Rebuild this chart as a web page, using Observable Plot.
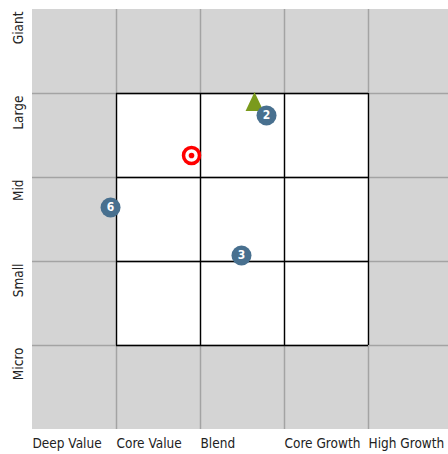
<!DOCTYPE html>
<html>
<head>
<meta charset="utf-8">
<script src="https://cdn.jsdelivr.net/npm/d3@7"></script>
<script src="https://cdn.jsdelivr.net/npm/@observablehq/plot@0.6"></script>
<style>
  html, body { margin: 0; padding: 0; background: #fff; }
  svg { font-family: "Liberation Sans Narrow", "DejaVu Sans Condensed", Roboto, sans-serif; }
</style>
</head>
<body>
<div id="chart"></div>
<script>
// Style axis (columns, left edge of each) and size axis (rows, top edge of each)
const styleLabels = ["Deep Value", "Core Value", "Blend", "Core Growth", "High Growth"];
const sizeLabels = ["Micro", "Small", "Mid", "Large", "Giant"];

// Holdings (numbered circles): style score, size score
const holdingX = [2.786, 0.929, 2.488];
const holdingY = [3.738, 2.643, 2.071];
const holdingN = ["2", "6", "3"];

// Fund centroid (target) and benchmark (triangle)
const fundX = [1.893];
const fundY = [3.262];
const benchX = [2.643];
const benchY = [3.905];

const holdings = holdingX.map((x, i) => ({x, y: holdingY[i], n: holdingN[i]}));
const fund = fundX.map((x, i) => ({x, y: fundY[i]}));
const bench = benchX.map((x, i) => ({x, y: benchY[i]}));
const cols = styleLabels.map((label, i) => ({label, x: i}));
const rows = sizeLabels.map((label, i) => ({label, y: i + 1}));
const inner = [1, 2, 3, 4];

// isosceles triangle symbol (apex up), half-height = r
const triangleUp = {
  draw(context, size) {
    const s = Math.sqrt(size / Math.PI);
    context.moveTo(0, -s);
    context.lineTo(0.94 * s, s);
    context.lineTo(-0.94 * s, s);
    context.closePath();
  }
};

const chart = Plot.plot({
  width: 448,
  height: 454,
  x: {domain: [0, 5], range: [32, 452], axis: null},
  y: {domain: [0, 5], range: [429, 9], axis: null},
  marks: [
    Plot.rect([{x1: 0, x2: 5, y1: 0, y2: 5}], {x1: "x1", x2: "x2", y1: "y1", y2: "y2", fill: "#d4d4d4"}),
    Plot.rect([{x1: 1, x2: 4, y1: 1, y2: 4}], {x1: "x1", x2: "x2", y1: "y1", y2: "y2", fill: "#ffffff"}),
    Plot.ruleX(inner, {x: d => d, y1: 0, y2: 5, stroke: "#a3a3a3", strokeWidth: 1.5}),
    Plot.ruleY(inner, {y: d => d, x1: 0, x2: 5, stroke: "#a3a3a3", strokeWidth: 1.5}),
    Plot.ruleX(inner, {x: d => d, y1: 1, y2: 4, stroke: "#000", strokeWidth: 1.3}),
    Plot.ruleY(inner, {y: d => d, x1: 1, x2: 4, stroke: "#000", strokeWidth: 1.3}),
    Plot.text(cols, {x: "x", y: 0, text: "label", textAnchor: "start", dy: 14, fontSize: 13.5, fill: "#222"}),
    Plot.text(rows, {x: 0, y: "y", text: "label", textAnchor: "end", rotate: -90, dx: -14, dy: 2, fontSize: 13.5, fill: "#222"}),
    Plot.dot(bench, {x: "x", y: "y", symbol: triangleUp, r: 9.5, fill: "#7a9a1c", stroke: "none"}),
    Plot.dot(fund, {x: "x", y: "y", r: 8, fill: "#fff", stroke: "#ff0000", strokeWidth: 3.5}),
    Plot.dot(fund, {x: "x", y: "y", r: 2.8, fill: "#ff0000", stroke: "none"}),
    Plot.dot(holdings, {x: "x", y: "y", r: 10, fill: "#48708f", stroke: "none"}),
    Plot.text(holdings, {x: "x", y: "y", text: "n", fill: "#fff", fontSize: 12, fontWeight: "bold"})
  ]
});
document.getElementById("chart").appendChild(chart);
</script>
</body>
</html>
